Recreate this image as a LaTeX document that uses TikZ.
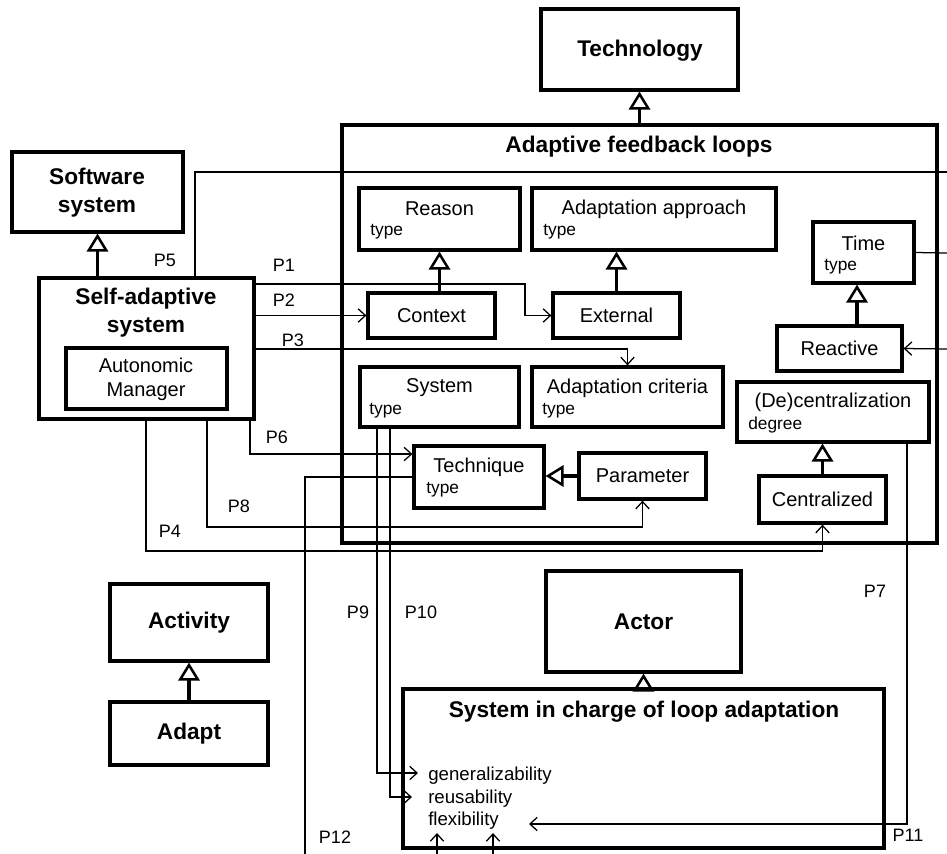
\documentclass[tikz,border=0pt]{standalone}
\usepackage{fontspec}
\setmainfont{Liberation Sans}
\usetikzlibrary{arrows.meta,fit}
\begin{document}
\begin{tikzpicture}[x=0.75pt,y=-0.75pt,
  box/.style={draw,line width=2.4pt,inner sep=0pt},
  ttl/.style={font=\fontsize{17}{21}\selectfont\bfseries,align=center,inner sep=0pt},
  lbl/.style={font=\fontsize{15}{18}\selectfont,align=center,inner sep=0pt},
  typ/.style={font=\fontsize{13}{15}\selectfont,anchor=west,inner sep=0pt},
  plab/.style={font=\fontsize{13.5}{16}\selectfont,inner sep=0pt},
  qual/.style={font=\fontsize{14}{17}\selectfont,anchor=west,inner sep=0pt},
  wire/.style={line width=0.95pt},
  conn/.style={wire,-{Straight Barb[length=5.5pt,width=10pt,line width=0.95pt]}},
  gen/.style={line width=2.4pt,-{Triangle[open,length=13.5pt,width=16pt,line width=1.9pt]}}]
\useasboundingbox (0,0) rectangle (947,854);

% ---------- boxes ----------
\node[box,fit={(541,9)(738,90)}] (techn) {};
\node[ttl] (technT) at (640,51) {Technology};

\node[box,fit={(342,125)(937,543)}] (afl) {};
\node[ttl] (aflT) at (639,147) {Adaptive feedback loops};

\node[box,fit={(12,152)(183,232)}] (sw) {};
\node[ttl] (swT) at (97,193) {Software\\system};

\node[box,fit={(39,278)(254,419)}] (sas) {};
\node[ttl] (sasT) at (146,313) {Self-adaptive\\system};
\node[box,fit={(66,348)(227,409)}] (am) {};
\node[lbl] (amT) at (146,379) {Autonomic\\Manager};

\node[box,fit={(359,188)(520,250)}] (reason) {};
\node[lbl] (reasonT) at (439.5,209) {Reason};
\node[typ] (reasonY) at (370,232) {type};

\node[box,fit={(532,188)(776,250)}] (aa) {};
\node[lbl] (aaT) at (654,209) {Adaptation approach};
\node[typ] (aaY) at (543,232) {type};

\node[box,fit={(368,293)(495,338)}] (ctx) {};
\node[lbl] (ctxT) at (ctx.center) {Context};

\node[box,fit={(553,293)(680,338)}] (ext) {};
\node[lbl] (extT) at (ext.center) {External};

\node[box,fit={(360,367)(519,427)}] (sys) {};
\node[lbl] (sysT) at (439.5,388) {System};
\node[typ] (sysY) at (369,411) {type};

\node[box,fit={(532,367)(723,427)}] (ac) {};
\node[lbl] (acT) at (627.5,388) {Adaptation criteria};
\node[typ] (acY) at (542,411) {type};

\node[box,fit={(813,222)(914,283)}] (time) {};
\node[lbl] (timeT) at (863.5,243) {Time};
\node[typ] (timeY) at (824,267) {type};

\node[box,fit={(777,326)(902,371)}] (react) {};
\node[lbl] (reactT) at (react.center) {Reactive};

\node[box,fit={(737,382)(929,442)}] (dec) {};
\node[lbl] (decT) at (833,402) {(De)centralization};
\node[typ] (decY) at (748,425) {degree};

\node[box,fit={(759,476)(886,523)}] (cent) {};
\node[lbl] (centT) at (cent.center) {Centralized};

\node[box,fit={(414,446)(544,508)}] (techq) {};
\node[lbl] (techqT) at (479,467) {Technique};
\node[typ] (techqY) at (426,490) {type};

\node[box,fit={(579,453)(706,499)}] (param) {};
\node[lbl] (paramT) at (param.center) {Parameter};

\node[box,fit={(110,584)(268,661)}] (act) {};
\node[ttl] (actT) at (act.center) {Activity};
\node[box,fit={(110,702)(268,765)}] (adapt) {};
\node[ttl] (adaptT) at (adapt.center) {Adapt};

\node[box,fit={(546,571)(741,672)}] (actor) {};
\node[ttl] (actorT) at (actor.center) {Actor};

\node[box,fit={(403,689)(884,848)}] (sic) {};
\node[ttl] (sicT) at (644,712) {System in charge of loop adaptation};
\node[qual] (qg) at (428,776) {generalizability};
\node[qual] (qr) at (428,799) {reusability};
\node[qual] (qf) at (428,821) {flexibility};

% ---------- generalizations ----------
\draw[gen] (afl.north) -- (afl.north |- techn.south);
\draw[gen] (sw.south |- sas.north) -- (sw.south);
\draw[gen] (reason.south |- ctx.north) -- (reason.south);
\draw[gen] (ext.north) -- (ext.north |- aa.south);
\coordinate (tx) at (857,0);
\draw[gen] (tx |- react.north) -- (tx |- time.south);
\draw[gen] (cent.north) -- (cent.north |- dec.south);
\draw[gen] (param.west) -- (techq.east |- param.west);
\draw[gen] (adapt.north) -- (act.south);
\draw[gen] (sic.north) -- (sic.north |- actor.south);

% ---------- free ends ----------
\coordinate (e5) at (947,172);
\coordinate (etime) at (947,253);
\coordinate (ereact) at (947,349);
\coordinate (p12end) at (305,854);
\coordinate (flexend) at (529,824);
\coordinate (g9) at (418,773);
\coordinate (r10) at (412,797);
\coordinate (u1s) at (437,854);
\coordinate (u1e) at (437,833);
\coordinate (u2s) at (493,854);
\coordinate (u2e) at (493,833);

% ---------- connectors ----------
\draw[wire] (afl.west |- e5) -- (afl.east |- e5);
\draw[wire] (sas.north -| 195,0) |- (e5);
\draw[conn] (sas.east |- 0,284) -- (525,284) |- (ext.west);
\draw[conn] (sas.east |- ctx.west) -- (ctx.west);
\draw[conn] (sas.east |- 0,349) -| (ac.north);
\draw[wire] (time.east) -- (etime);
\draw[conn] (ereact) -- (react.east);
\draw[conn] (dec.south -| 907,0) |- (flexend);
\draw[conn] (sas.south -| 250,0) |- (techq.west |- 0,454);
\draw[conn] (sas.south -| 207,0) |- (param.south |- 0,527) -- (param.south);
\draw[conn] (sas.south -| 146,0) |- (cent.south |- 0,551) -- (cent.south);
\draw[wire] (techq.west) -| (p12end);
\draw[conn] (sys.south -| 377,0) |- (g9);
\draw[conn] (sys.south -| 390,0) |- (r10);
\draw[conn] (u1s) -- (u1e);
\draw[conn] (u2s) -- (u2e);

% ---------- labels ----------
\node[plab] (lp5) at (165,260) {P5};
\node[plab] (lp1) at (284,265) {P1};
\node[plab] (lp2) at (284,300) {P2};
\node[plab] (lp3) at (293,340) {P3};
\node[plab] (lp6) at (277,437) {P6};
\node[plab] (lp8) at (239,506) {P8};
\node[plab] (lp4) at (170,531) {P4};
\node[plab] (lp9) at (358,612) {P9};
\node[plab] (lp10) at (421,612) {P10};
\node[plab] (lp7) at (875,591) {P7};
\node[plab] (lp11) at (908,835) {P11};
\node[plab] (lp12) at (335,837) {P12};
\end{tikzpicture}
\end{document}
